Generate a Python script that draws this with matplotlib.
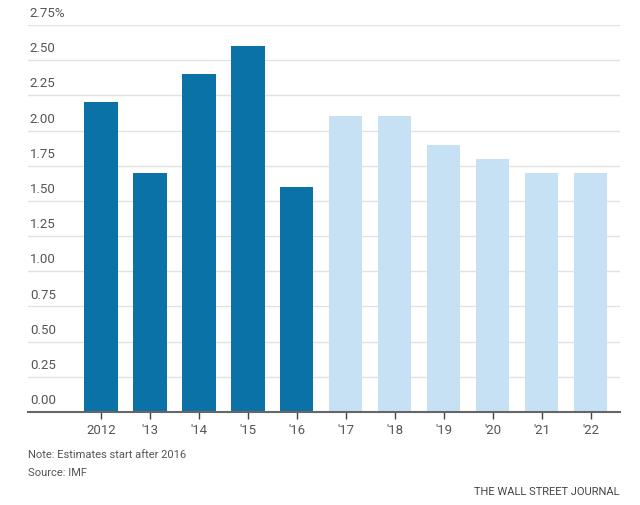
import numpy as np
import matplotlib
matplotlib.use("Agg")
import matplotlib.pyplot as plt
from matplotlib.transforms import blended_transform_factory

plt.rcParams['font.family'] = ['Roboto', 'DejaVu Sans']

years = ['2012', "'13", "'14", "'15", "'16", "'17", "'18", "'19", "'20", "'21", "'22"]
values = [2.2, 1.7, 2.4, 2.6, 1.6, 2.1, 2.1, 1.9, 1.8, 1.7, 1.7]
is_estimate = [False] * 5 + [True] * 6
yticks = [0.0, 0.25, 0.5, 0.75, 1.0, 1.25, 1.5, 1.75, 2.0, 2.25, 2.5, 2.75]

dark = '#0a72a6'
light = '#c6e0f4'
grid_col = '#e2e2e2'
text_col = '#555555'

fig = plt.figure(figsize=(6.4, 5.05), dpi=100)
ax = fig.add_axes([28 / 640, 1 - 412 / 505, 592 / 640, 387 / 505])

x = np.arange(len(years))
colors = [light if e else dark for e in is_estimate]
ax.bar(x, values, width=0.68, color=colors, zorder=2)

ax.set_xlim(-1.49, 10.6)
ax.set_ylim(0, 2.75)

# gridlines and left aligned labels sitting above them
trans = blended_transform_factory(ax.transAxes, ax.transData)
for t in yticks:
    if t > 0:
        ax.axhline(t, color=grid_col, lw=1, zorder=1)
    lab = f'{t:.2f}%' if t == yticks[-1] else f'{t:.2f}'
    ax.text(0.003, t + 0.035, lab, transform=trans, ha='left', va='bottom',
            fontsize=9.5, color=text_col)

ax.set_yticks([])
ax.set_xticks(x)
ax.set_xticklabels(years, fontsize=9.5, color=text_col)
ax.tick_params(axis='x', length=5, width=1, color='#444444', pad=4)
for s in ['top', 'right', 'left']:
    ax.spines[s].set_visible(False)
ax.spines['bottom'].set_color('#666666')
ax.spines['bottom'].set_linewidth(1.5)

fig.text(28 / 640, 1 - 455 / 505, 'Note: Estimates start after 2016',
         fontsize=8, color=text_col, va='center')
fig.text(28 / 640, 1 - 473 / 505, 'Source: IMF',
         fontsize=8, color=text_col, va='center')
fig.text(620 / 640, 1 - 492 / 505, 'THE WALL STREET JOURNAL',
         fontsize=8, color='#444444', va='center', ha='right')

fig.savefig('out.png', dpi=100)
